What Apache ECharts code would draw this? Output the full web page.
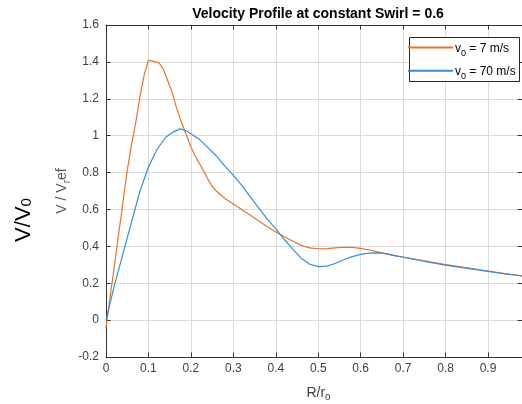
<!DOCTYPE html>
<html>
<head>
<meta charset="utf-8">
<script src="https://cdn.jsdelivr.net/npm/echarts@6/dist/echarts.min.js"></script>
<style>
  html, body { margin: 0; padding: 0; background: #ffffff; }
  #chart { width: 522px; height: 404px; }
</style>
</head>
<body>
<div id="chart"></div>
<script>
// Velocity profile at constant swirl: normalised velocity vs. normalised radius
const titleText = 'Velocity Profile at constant Swirl = 0.6';
const legendSpeeds = ['7 m/s', '70 m/s'];
const xTickLabels = ['0', '0.1', '0.2', '0.3', '0.4', '0.5', '0.6', '0.7', '0.8', '0.9'];
const yTickLabels = ['-0.2', '0', '0.2', '0.4', '0.6', '0.8', '1', '1.2', '1.4', '1.6'];

// v0 = 7 m/s
const slowR = [0, 0.01, 0.02, 0.03, 0.04, 0.05, 0.06, 0.07, 0.08, 0.09, 0.10,
  0.125, 0.135, 0.145, 0.155, 0.165, 0.175, 0.19, 0.20, 0.21, 0.22, 0.23, 0.24,
  0.25, 0.26, 0.27, 0.28, 0.29, 0.30, 0.32, 0.34, 0.36, 0.38, 0.40, 0.42, 0.44,
  0.46, 0.48, 0.50, 0.52, 0.54, 0.56, 0.58, 0.60, 0.62, 0.64, 0.66, 0.68, 0.70,
  0.72, 0.74, 0.76, 0.78, 0.80, 0.82, 0.84, 0.86, 0.88, 0.90, 0.92, 0.94, 0.96, 0.98];
const slowV = [-0.04, 0.13, 0.30, 0.47, 0.64, 0.81, 0.95, 1.07, 1.21, 1.33, 1.41,
  1.395, 1.36, 1.30, 1.24, 1.16, 1.09, 1.0, 0.94, 0.89, 0.85, 0.81, 0.765,
  0.725, 0.70, 0.68, 0.66, 0.645, 0.63, 0.60, 0.568, 0.537, 0.506, 0.478, 0.452, 0.428,
  0.405, 0.392, 0.387, 0.388, 0.392, 0.395, 0.394, 0.389, 0.38, 0.37, 0.359, 0.35, 0.342,
  0.334, 0.326, 0.317, 0.309, 0.301, 0.294, 0.287, 0.28, 0.273, 0.266, 0.259, 0.252, 0.246, 0.24];

// v0 = 70 m/s
const fastR = [0, 0.02, 0.04, 0.06, 0.08, 0.10, 0.12, 0.14, 0.16, 0.175, 0.19,
  0.20, 0.22, 0.24, 0.26, 0.28, 0.30, 0.32, 0.34, 0.36, 0.38, 0.40, 0.42, 0.44,
  0.46, 0.48, 0.50, 0.52, 0.54, 0.56, 0.58, 0.60, 0.62, 0.64, 0.66, 0.68, 0.70,
  0.72, 0.74, 0.76, 0.78, 0.80, 0.82, 0.84, 0.86, 0.88, 0.90, 0.92, 0.94, 0.96, 0.98];
const fastV = [0, 0.19, 0.36, 0.53, 0.70, 0.83, 0.925, 0.99, 1.022, 1.037, 1.025,
  1.01, 0.98, 0.935, 0.89, 0.835, 0.785, 0.73, 0.668, 0.607, 0.548, 0.495, 0.437, 0.385,
  0.336, 0.303, 0.29, 0.293, 0.307, 0.327, 0.344, 0.356, 0.363, 0.365, 0.36, 0.35, 0.341,
  0.332, 0.323, 0.314, 0.306, 0.298, 0.291, 0.284, 0.278, 0.271, 0.264, 0.257, 0.251, 0.245, 0.239];

const seriesColors = ['#E8722F', '#3A8DD0'];
const FONT = '"Liberation Sans", Arial, Helvetica, sans-serif';
const AXIS_COLOR = '#333333';
const GRID_COLOR = '#dadada';

const xMin = 0, xMax = 0.98, xStep = 0.1;
const yMin = -0.2, yMax = 1.6, yStep = 0.2;

function pairs(xs, ys) { return xs.map((x, i) => [x, ys[i]]); }

const axisCommon = {
  axisLine: { show: true, onZero: false, lineStyle: { color: AXIS_COLOR, width: 1 } },
  axisTick: { show: true, inside: true, length: 4.5, lineStyle: { color: AXIS_COLOR, width: 1 } }
};

// main / subscript rich-text styles for labels with subscripts
function richStyles(mainSize, subSize, subPad, color, weight) {
  return {
    m: { fontSize: mainSize, lineHeight: mainSize, verticalAlign: 'top', fontFamily: FONT, fill: color, color: color, fontWeight: weight || 'normal' },
    s: { fontSize: subSize, lineHeight: subSize, verticalAlign: 'top', padding: [subPad, 0, 0, 0], fontFamily: FONT, fill: color, color: color }
  };
}

const legendRows = legendSpeeds.map((label, i) => {
  const cy = 47.5 + i * 23.2;
  return [
    { type: 'line', shape: { x1: 408, y1: cy, x2: 453, y2: cy }, style: { stroke: seriesColors[i], lineWidth: 2 }, z: 101 },
    { type: 'text', x: 455, y: cy + 1.2, z: 101,
      style: { text: '{m|v}{s|0}{m| = ' + label + '}', rich: richStyles(12, 9, 6.5, '#000000'), align: 'left', verticalAlign: 'middle' } }
  ];
}).flat();

const chart = echarts.init(document.getElementById('chart'), null, { renderer: 'canvas' });

chart.setOption({
  animation: false,
  backgroundColor: '#ffffff',
  grid: { left: 106, top: 25, width: 416, height: 332, containLabel: false },
  xAxis: [
    Object.assign({
      type: 'value', min: xMin, max: xMax, interval: xStep, position: 'bottom',
      axisLabel: {
        showMaxLabel: false, margin: 6, color: '#404040', fontSize: 12, fontFamily: FONT,
        formatter: v => { const k = Math.round((v - xMin) / xStep); return (Math.abs(v - (xMin + k * xStep)) < 1e-6 && xTickLabels[k]) || ''; }
      },
      splitLine: { show: true, lineStyle: { color: GRID_COLOR, width: 1 } }
    }, axisCommon),
    Object.assign({
      type: 'value', min: xMin, max: xMax, interval: xStep, position: 'top',
      axisLabel: { show: false }, splitLine: { show: false }
    }, axisCommon)
  ],
  yAxis: [
    Object.assign({
      type: 'value', min: yMin, max: yMax, interval: yStep, position: 'left',
      axisLabel: {
        margin: 7, color: '#404040', fontSize: 12, fontFamily: FONT,
        formatter: v => yTickLabels[Math.round((v - yMin) / yStep)] || ''
      },
      splitLine: { show: true, lineStyle: { color: GRID_COLOR, width: 1 } }
    }, axisCommon),
    Object.assign({
      type: 'value', min: yMin, max: yMax, interval: yStep, position: 'right',
      axisLabel: { show: false }, splitLine: { show: false }
    }, axisCommon)
  ],
  series: [
    { name: legendSpeeds[0], type: 'line', xAxisIndex: 0, yAxisIndex: 0, data: pairs(slowR, slowV),
      showSymbol: false, symbol: 'none', lineStyle: { color: seriesColors[0], width: 1.2 }, itemStyle: { color: seriesColors[0] }, z: 3 },
    { name: legendSpeeds[1], type: 'line', xAxisIndex: 0, yAxisIndex: 0, data: pairs(fastR, fastV),
      showSymbol: false, symbol: 'none', lineStyle: { color: seriesColors[1], width: 1.2 }, itemStyle: { color: seriesColors[1] }, z: 4 }
  ],
  graphic: [
    { type: 'text', x: 318, y: 14, z: 100,
      style: { text: titleText, font: 'bold 14px ' + FONT, fill: '#000000', align: 'center', verticalAlign: 'middle' } },
    { type: 'text', x: 62.5, y: 191, rotation: Math.PI / 2, z: 100,
      style: { text: '{m|V / V}{s|r}{m|ef}', rich: richStyles(14, 10, 7, '#555555'), align: 'center', verticalAlign: 'middle' } },
    { type: 'text', x: 24, y: 220, rotation: Math.PI / 2, z: 100,
      style: { text: '{m|V/V}{s|0}', rich: richStyles(22, 15, 6.5, '#000000'), align: 'center', verticalAlign: 'middle' } },
    { type: 'text', x: 318.5, y: 393, z: 100,
      style: { text: '{m|R/r}{s|o}', rich: richStyles(14, 10, 6.5, '#404040'), align: 'center', verticalAlign: 'middle' } },
    { type: 'rect', shape: { x: 409.5, y: 37.5, width: 110, height: 44 }, z: 100,
      style: { fill: '#ffffff', stroke: '#262626', lineWidth: 1 } }
  ].concat(legendRows)
});
</script>
</body>
</html>
